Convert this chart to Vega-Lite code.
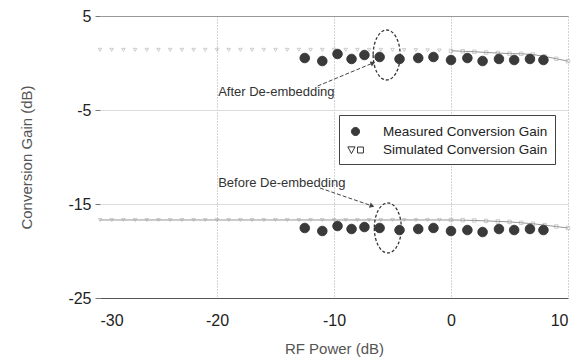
{
  "$schema": "https://vega.github.io/schema/vega-lite/v6.json",
  "width": 468,
  "height": 282,
  "autosize": {"type": "none"},
  "padding": {"left": 100, "top": 16, "right": 19, "bottom": 66},
  "background": "white",
  "config": {"view": {"stroke": null}, "font": "Liberation Sans"},
  "datasets": {
    "measured": [
      {"series": "after", "kind": "Measured Conversion Gain", "x": -12.5, "y": 0.53},
      {"series": "after", "kind": "Measured Conversion Gain", "x": -11.0, "y": 0.21},
      {"series": "after", "kind": "Measured Conversion Gain", "x": -9.7, "y": 0.96},
      {"series": "after", "kind": "Measured Conversion Gain", "x": -8.5, "y": 0.43},
      {"series": "after", "kind": "Measured Conversion Gain", "x": -7.4, "y": 0.85},
      {"series": "after", "kind": "Measured Conversion Gain", "x": -6.1, "y": 0.64},
      {"series": "after", "kind": "Measured Conversion Gain", "x": -4.4, "y": 0.43},
      {"series": "after", "kind": "Measured Conversion Gain", "x": -2.8, "y": 0.53},
      {"series": "after", "kind": "Measured Conversion Gain", "x": -1.5, "y": 0.64},
      {"series": "after", "kind": "Measured Conversion Gain", "x": 0.0, "y": 0.32},
      {"series": "after", "kind": "Measured Conversion Gain", "x": 1.4, "y": 0.53},
      {"series": "after", "kind": "Measured Conversion Gain", "x": 2.7, "y": 0.21},
      {"series": "after", "kind": "Measured Conversion Gain", "x": 4.1, "y": 0.43},
      {"series": "after", "kind": "Measured Conversion Gain", "x": 5.4, "y": 0.32},
      {"series": "after", "kind": "Measured Conversion Gain", "x": 6.75, "y": 0.43},
      {"series": "after", "kind": "Measured Conversion Gain", "x": 7.9, "y": 0.32},
      {"series": "before", "kind": "Measured Conversion Gain", "x": -12.5, "y": -17.55},
      {"series": "before", "kind": "Measured Conversion Gain", "x": -11.0, "y": -17.87},
      {"series": "before", "kind": "Measured Conversion Gain", "x": -9.7, "y": -17.34},
      {"series": "before", "kind": "Measured Conversion Gain", "x": -8.5, "y": -17.66},
      {"series": "before", "kind": "Measured Conversion Gain", "x": -7.4, "y": -17.45},
      {"series": "before", "kind": "Measured Conversion Gain", "x": -6.1, "y": -17.55},
      {"series": "before", "kind": "Measured Conversion Gain", "x": -4.4, "y": -17.77},
      {"series": "before", "kind": "Measured Conversion Gain", "x": -2.8, "y": -17.66},
      {"series": "before", "kind": "Measured Conversion Gain", "x": -1.5, "y": -17.55},
      {"series": "before", "kind": "Measured Conversion Gain", "x": 0.0, "y": -17.87},
      {"series": "before", "kind": "Measured Conversion Gain", "x": 1.4, "y": -17.77},
      {"series": "before", "kind": "Measured Conversion Gain", "x": 2.7, "y": -17.98},
      {"series": "before", "kind": "Measured Conversion Gain", "x": 4.1, "y": -17.66},
      {"series": "before", "kind": "Measured Conversion Gain", "x": 5.4, "y": -17.77},
      {"series": "before", "kind": "Measured Conversion Gain", "x": 6.75, "y": -17.66},
      {"series": "before", "kind": "Measured Conversion Gain", "x": 7.9, "y": -17.77}
    ],
    "simulated": [
      {"series": "after", "x": -30, "y": 1.4}, {"series": "after", "x": -29, "y": 1.4}, {"series": "after", "x": -28, "y": 1.4},
      {"series": "after", "x": -27, "y": 1.4}, {"series": "after", "x": -26, "y": 1.4}, {"series": "after", "x": -25, "y": 1.4},
      {"series": "after", "x": -24, "y": 1.4}, {"series": "after", "x": -23, "y": 1.4}, {"series": "after", "x": -22, "y": 1.4},
      {"series": "after", "x": -21, "y": 1.4}, {"series": "after", "x": -20, "y": 1.4}, {"series": "after", "x": -19, "y": 1.4},
      {"series": "after", "x": -18, "y": 1.4}, {"series": "after", "x": -17, "y": 1.4}, {"series": "after", "x": -16, "y": 1.4},
      {"series": "after", "x": -15, "y": 1.4}, {"series": "after", "x": -14, "y": 1.4}, {"series": "after", "x": -13, "y": 1.4},
      {"series": "after", "x": -12, "y": 1.4}, {"series": "after", "x": -11, "y": 1.4}, {"series": "after", "x": -10, "y": 1.4},
      {"series": "after", "x": -9, "y": 1.4}, {"series": "after", "x": -8, "y": 1.4}, {"series": "after", "x": -7, "y": 1.4},
      {"series": "after", "x": -6, "y": 1.4}, {"series": "after", "x": -5, "y": 1.4}, {"series": "after", "x": -4, "y": 1.38},
      {"series": "after", "x": -3, "y": 1.37}, {"series": "after", "x": -2, "y": 1.35}, {"series": "after", "x": -1, "y": 1.33},
      {"series": "after", "x": 0, "y": 1.3}, {"series": "after", "x": 1, "y": 1.25}, {"series": "after", "x": 2, "y": 1.2},
      {"series": "after", "x": 3, "y": 1.12}, {"series": "after", "x": 4, "y": 1.06}, {"series": "after", "x": 5, "y": 1.0},
      {"series": "after", "x": 6, "y": 0.98}, {"series": "after", "x": 7, "y": 0.9}, {"series": "after", "x": 8, "y": 0.7},
      {"series": "after", "x": 9, "y": 0.45}, {"series": "after", "x": 10, "y": 0.2},
      {"series": "before", "x": -30, "y": -16.7}, {"series": "before", "x": -29, "y": -16.7}, {"series": "before", "x": -28, "y": -16.7},
      {"series": "before", "x": -27, "y": -16.7}, {"series": "before", "x": -26, "y": -16.7}, {"series": "before", "x": -25, "y": -16.7},
      {"series": "before", "x": -24, "y": -16.7}, {"series": "before", "x": -23, "y": -16.7}, {"series": "before", "x": -22, "y": -16.7},
      {"series": "before", "x": -21, "y": -16.7}, {"series": "before", "x": -20, "y": -16.7}, {"series": "before", "x": -19, "y": -16.7},
      {"series": "before", "x": -18, "y": -16.7}, {"series": "before", "x": -17, "y": -16.7}, {"series": "before", "x": -16, "y": -16.7},
      {"series": "before", "x": -15, "y": -16.7}, {"series": "before", "x": -14, "y": -16.7}, {"series": "before", "x": -13, "y": -16.7},
      {"series": "before", "x": -12, "y": -16.7}, {"series": "before", "x": -11, "y": -16.7}, {"series": "before", "x": -10, "y": -16.7},
      {"series": "before", "x": -9, "y": -16.7}, {"series": "before", "x": -8, "y": -16.7}, {"series": "before", "x": -7, "y": -16.7},
      {"series": "before", "x": -6, "y": -16.7}, {"series": "before", "x": -5, "y": -16.7}, {"series": "before", "x": -4, "y": -16.7},
      {"series": "before", "x": -3, "y": -16.7}, {"series": "before", "x": -2, "y": -16.7}, {"series": "before", "x": -1, "y": -16.7},
      {"series": "before", "x": 0, "y": -16.7}, {"series": "before", "x": 1, "y": -16.72}, {"series": "before", "x": 2, "y": -16.75},
      {"series": "before", "x": 3, "y": -16.8}, {"series": "before", "x": 4, "y": -16.85}, {"series": "before", "x": 5, "y": -16.9},
      {"series": "before", "x": 6, "y": -17.0}, {"series": "before", "x": 7, "y": -17.1}, {"series": "before", "x": 8, "y": -17.25},
      {"series": "before", "x": 9, "y": -17.4}, {"series": "before", "x": 10, "y": -17.55}
    ],
    "ellipses": [
      {"series": "after", "x": -5.5, "y": 0.85},
      {"series": "before", "x": -5.4, "y": -17.55}
    ],
    "arrows": [
      {"id": "after", "x": -11.4, "y": -2.45, "x2": -6.67, "y2": 0.0},
      {"id": "before", "x": -11.2, "y": -13.3, "x2": -6.75, "y2": -15.2}
    ],
    "notes": [
      {"text": "After De-embedding", "x": -19.9, "y": -3.1},
      {"text": "Before De-embedding", "x": -19.9, "y": -12.8}
    ]
  },
  "layer": [
    {
      "data": {"name": "simulated"},
      "transform": [{"filter": "datum.series == 'before' || datum.x >= 0"}],
      "mark": {"type": "line", "color": "#8a8a8a", "strokeWidth": 0.9},
      "encoding": {
        "x": {
          "field": "x", "type": "quantitative",
          "scale": {"domain": [-30, 10], "nice": false, "zero": false},
          "axis": {
            "values": [-30, -20, -10, 0, 10],
            "labelExpr": "'' + datum.value",
            "title": "RF Power (dB)",
            "labelFontSize": 16, "titleFontSize": 15,
            "labelColor": "#222", "titleColor": "#555", "titleFontWeight": "normal",
            "domainColor": "#555", "ticks": false, "labelPadding": 14, "titlePadding": 13,
            "gridDash": [1, 2],
            "gridColor": {"condition": {"test": "datum.value === -30", "value": "transparent"}, "value": "#aaa"}
          }
        },
        "y": {
          "field": "y", "type": "quantitative",
          "scale": {"domain": [-25, 5], "nice": false, "zero": false},
          "axis": {
            "values": [5, -5, -15, -25],
            "labelExpr": "'' + datum.value",
            "title": "Conversion Gain (dB)",
            "labelFontSize": 16, "titleFontSize": 15,
            "labelColor": "#222", "titleColor": "#555", "titleFontWeight": "normal",
            "domain": false, "tickSize": 5, "tickColor": "#777", "labelPadding": 4, "titlePadding": 33,
            "gridColor": {"condition": {"test": "datum.value === 5", "value": "#999"}, "value": "#ddd"}
          }
        },
        "detail": {"field": "series"}
      }
    },
    {
      "data": {"name": "simulated"},
      "transform": [{"filter": "datum.x < 0"}],
      "mark": {"type": "point", "shape": "triangle-down", "size": 12, "filled": false, "stroke": "#999", "strokeWidth": 0.7},
      "encoding": {"x": {"field": "x", "type": "quantitative"}, "y": {"field": "y", "type": "quantitative"}}
    },
    {
      "data": {"name": "simulated"},
      "transform": [{"filter": "datum.x >= 0"}],
      "mark": {"type": "point", "shape": "square", "size": 12, "filled": false, "stroke": "#999", "strokeWidth": 0.7},
      "encoding": {"x": {"field": "x", "type": "quantitative"}, "y": {"field": "y", "type": "quantitative"}}
    },
    {
      "data": {"name": "measured"},
      "mark": {"type": "point", "size": 460, "strokeWidth": 0.8, "opacity": 1},
      "encoding": {
        "x": {"field": "x", "type": "quantitative"},
        "y": {"field": "y", "type": "quantitative"},
        "shape": {
          "field": "kind", "type": "nominal",
          "scale": {
            "domain": ["Measured Conversion Gain", "Simulated Conversion Gain"],
            "range": [
              "M -0.45 0 A 0.45 0.45 0 1 0 0.45 0 A 0.45 0.45 0 1 0 -0.45 0 Z",
              "M -0.85 -0.35 L -0.05 -0.35 L -0.45 0.4 Z M 0.22 -0.33 L 0.88 -0.33 L 0.88 0.33 L 0.22 0.33 Z"
            ]
          },
          "legend": {
            "title": null, "orient": "none", "legendX": 239, "legendY": 99,
            "padding": 7, "rowPadding": 2.5, "labelFontSize": 13.5, "labelColor": "#222",
            "labelOffset": 18, "symbolSize": 324, "symbolStrokeWidth": 1,
            "strokeColor": "#444", "fillColor": "white", "cornerRadius": 0, "labelLimit": 300
          }
        },
        "fill": {
          "field": "kind", "type": "nominal",
          "scale": {
            "domain": ["Measured Conversion Gain", "Simulated Conversion Gain"],
            "range": ["#3a3a3a", "#ffffff"]
          },
          "legend": {
            "title": null, "orient": "none", "legendX": 239, "legendY": 99,
            "padding": 7, "rowPadding": 2.5, "labelFontSize": 13.5, "labelColor": "#222",
            "labelOffset": 18, "symbolSize": 324, "symbolStrokeWidth": 1,
            "strokeColor": "#444", "fillColor": "white", "cornerRadius": 0, "labelLimit": 300
          }
        },
        "stroke": {
          "field": "kind", "type": "nominal",
          "scale": {
            "domain": ["Measured Conversion Gain", "Simulated Conversion Gain"],
            "range": ["#333333", "#333333"]
          },
          "legend": {
            "title": null, "orient": "none", "legendX": 239, "legendY": 99,
            "padding": 7, "rowPadding": 2.5, "labelFontSize": 13.5, "labelColor": "#222",
            "labelOffset": 18, "symbolSize": 324, "symbolStrokeWidth": 1,
            "strokeColor": "#444", "fillColor": "white", "cornerRadius": 0, "labelLimit": 300
          }
        }
      }
    },
    {
      "data": {"name": "ellipses"},
      "mark": {
        "type": "point",
        "shape": "M -0.54 0 A 0.54 1 0 1 0 0.54 0 A 0.54 1 0 1 0 -0.54 0 Z",
        "size": 2500, "filled": false, "stroke": "#333", "strokeWidth": 1.3, "strokeDash": [3, 2], "opacity": 1
      },
      "encoding": {"x": {"field": "x", "type": "quantitative"}, "y": {"field": "y", "type": "quantitative"}}
    },
    {
      "data": {"name": "arrows"},
      "mark": {"type": "rule", "color": "#444", "strokeWidth": 1, "strokeDash": [4, 2]},
      "encoding": {
        "x": {"field": "x", "type": "quantitative"},
        "y": {"field": "y", "type": "quantitative"},
        "x2": {"field": "x2"},
        "y2": {"field": "y2"}
      }
    },
    {
      "data": {"name": "arrows"},
      "transform": [{"filter": "datum.id == 'after'"}],
      "mark": {"type": "point", "shape": "triangle-right", "size": 30, "filled": true, "color": "#444", "angle": 337, "opacity": 1},
      "encoding": {"x": {"field": "x2", "type": "quantitative"}, "y": {"field": "y2", "type": "quantitative"}}
    },
    {
      "data": {"name": "arrows"},
      "transform": [{"filter": "datum.id == 'before'"}],
      "mark": {"type": "point", "shape": "triangle-right", "size": 30, "filled": true, "color": "#444", "angle": 19, "opacity": 1},
      "encoding": {"x": {"field": "x2", "type": "quantitative"}, "y": {"field": "y2", "type": "quantitative"}}
    },
    {
      "data": {"name": "notes"},
      "mark": {"type": "text", "align": "left", "baseline": "middle", "fontSize": 13, "color": "#333"},
      "encoding": {
        "x": {"field": "x", "type": "quantitative"},
        "y": {"field": "y", "type": "quantitative"},
        "text": {"field": "text"}
      }
    }
  ]
}
